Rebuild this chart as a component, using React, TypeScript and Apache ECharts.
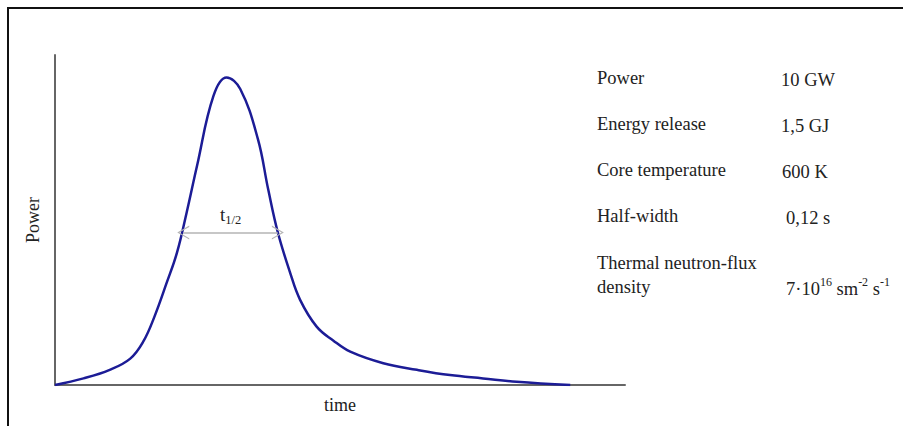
import React, { useEffect, useRef } from "react";
import * as echarts from "echarts";

// Curve samples (time, relative power)
const timeValues = [0, 5.0, 9.6, 13.2, 15.5, 17.4, 19.6, 21.4, 23.1, 24.9, 27.8, 30.1, 32.5, 35.6, 37.4, 39.1, 41.2, 43.0, 45.9, 48.8, 51.8, 57.6, 63.5, 69.3, 75.1, 81.0, 90.4];
const powerValues = [0, 2.0, 4.6, 8.0, 13.2, 20.5, 31.0, 40.1, 52.3, 66.3, 87.6, 93.2, 89.7, 74.5, 59.3, 46.2, 34.3, 25.8, 17.7, 13.5, 10.1, 6.6, 4.6, 3.0, 2.0, 1.0, 0];

// Half-width marker: [start time, end time, power level]
const halfWidth = [22.5, 39.1, 46.2];

const tableLabels = ["Power", "Energy release", "Core temperature", "Half-width", "Thermal neutron-flux\ndensity"];
const tableValues = ["{n|10 GW}", "{n|1,5 GJ}", "{n|600 K}", "{n|0,12 s}", "{n|7·10}{sup|16}{n| sm}{sup|-2}{n| s}{sup|-1}"];

const FONT = "'Liberation Serif', 'DejaVu Serif', serif";

export default function App() {
  const ref = useRef<HTMLDivElement>(null);
  useEffect(() => {
    if (!ref.current) return;
    const chart = echarts.init(ref.current, null, { renderer: "svg" });
    const rowY = [78, 124, 170, 216, 275];
    const valueX = [781, 781, 782, 786, 786];
    const valueY = [78, 124, 170, 216, 287];
    const graphics: any[] = [
      { type: "line", shape: { x1: 7, y1: 8, x2: 903, y2: 8 }, style: { stroke: "#111", lineWidth: 2 } },
      { type: "line", shape: { x1: 8, y1: 7, x2: 8, y2: 426 }, style: { stroke: "#111", lineWidth: 2 } },
    ];
    tableLabels.forEach((t, i) => {
      graphics.push({
        type: "text",
        x: 597,
        y: rowY[i],
        style: { text: t, font: `18.5px ${FONT}`, fill: "#222", verticalAlign: "middle", lineHeight: 24 },
      });
    });
    tableValues.forEach((t, i) => {
      graphics.push({
        type: "text",
        x: valueX[i],
        y: valueY[i],
        style: {
          text: t,
          verticalAlign: "middle",
          rich: {
            n: { fontFamily: FONT, fontSize: 18.5, fill: "#222", lineHeight: 22, verticalAlign: "bottom" },
            sup: { fontFamily: FONT, fontSize: 12, fill: "#222", lineHeight: 22, verticalAlign: "top" },
          },
        },
      });
    });

    chart.setOption({
      animation: false,
      grid: { left: 55, right: 278, top: 55, bottom: 41 },
      xAxis: {
        type: "value",
        min: 0,
        max: 100,
        name: "time",
        nameLocation: "middle",
        nameGap: 11,
        nameTextStyle: { fontFamily: FONT, fontSize: 18, color: "#222", verticalAlign: "top" },
        axisLine: { lineStyle: { color: "#666", width: 2 } },
        axisTick: { show: false },
        axisLabel: { show: false },
        splitLine: { show: false },
      },
      yAxis: {
        type: "value",
        min: 0,
        max: 100,
        name: "Power",
        nameLocation: "middle",
        nameGap: 13,
        nameRotate: 90,
        nameTextStyle: { fontFamily: FONT, fontSize: 18, color: "#222" },
        axisLine: { show: true, lineStyle: { color: "#666", width: 2 } },
        axisTick: { show: false },
        axisLabel: { show: false },
        splitLine: { show: false },
      },
      graphic: graphics,
      series: [
        {
          type: "line",
          data: timeValues.map((t, i) => [t, powerValues[i]]),
          smooth: 0.4,
          showSymbol: false,
          lineStyle: { color: "#1c1c96", width: 2.5 },
          z: 3,
          markLine: {
            silent: true,
            symbol: ["path://M10,0 L0,5 L10,10 L10,9 L1.8,5 L10,1 Z", "path://M0,0 L10,5 L0,10 L0,9 L8.2,5 L0,1 Z"],
            symbolSize: [12, 14],
            symbolRotate: 0,
            lineStyle: { color: "#b4b4b4", width: 1.5, type: "solid" },
            label: {
              show: true,
              position: "middle",
              distance: 6,
              formatter: "{t|t}{s|1/2}",
              rich: {
                t: { fontFamily: FONT, fontSize: 19, color: "#222", lineHeight: 22, verticalAlign: "top" },
                s: { fontFamily: FONT, fontSize: 12.5, color: "#222", lineHeight: 22, verticalAlign: "bottom" },
              },
            },
            data: [
              [
                { coord: [halfWidth[0], halfWidth[2]] },
                { coord: [halfWidth[1], halfWidth[2]] },
              ],
            ],
          },
        },
      ],
    });
    return () => chart.dispose();
  }, []);
  return <div ref={ref} style={{ position: "fixed", left: 0, top: 0, width: 903, height: 426, background: "#fff" }} />;
}
